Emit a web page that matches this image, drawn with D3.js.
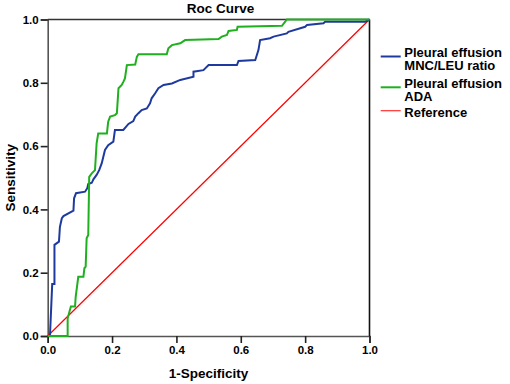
<!DOCTYPE html>
<html>
<head>
<meta charset="utf-8">
<script src="https://cdn.jsdelivr.net/npm/d3@7"></script>
<style>
  body { margin: 0; background: #fff; }
  text { font-family: "Liberation Sans", Arial, sans-serif; font-weight: bold; fill: #000; }
</style>
</head>
<body>
<div id="chart"></div>
<script>
// ROC points [1-specificity, sensitivity]
const mncLeu = [
  [0, 0], [0.007, 0], [0.014, 0.164], [0.021, 0.164], [0.021, 0.288], [0.035, 0.298],
  [0.038, 0.345], [0.044, 0.372], [0.049, 0.379], [0.080, 0.396], [0.082, 0.435],
  [0.088, 0.451], [0.116, 0.456], [0.123, 0.467], [0.126, 0.480], [0.137, 0.484],
  [0.142, 0.495], [0.152, 0.509], [0.160, 0.524], [0.168, 0.546], [0.178, 0.588],
  [0.188, 0.603], [0.204, 0.614], [0.209, 0.651], [0.235, 0.651], [0.251, 0.670],
  [0.266, 0.679], [0.272, 0.693], [0.282, 0.704], [0.292, 0.714], [0.308, 0.719],
  [0.318, 0.735], [0.323, 0.751], [0.334, 0.767], [0.344, 0.783], [0.360, 0.793],
  [0.386, 0.798], [0.412, 0.809], [0.453, 0.819], [0.453, 0.835], [0.484, 0.840],
  [0.500, 0.856], [0.588, 0.856], [0.593, 0.869], [0.645, 0.872], [0.650, 0.888],
  [0.655, 0.904], [0.660, 0.935], [0.691, 0.941], [0.702, 0.946], [0.743, 0.956],
  [0.748, 0.961], [0.800, 0.977], [0.806, 0.983], [0.857, 0.988], [0.862, 0.993],
  [0.987, 0.993], [1, 1]
];

const ada = [
  [0, 0], [0.062, 0], [0.062, 0.056], [0.072, 0.093], [0.085, 0.093], [0.087, 0.124],
  [0.095, 0.187], [0.111, 0.187], [0.114, 0.214], [0.118, 0.219], [0.121, 0.309],
  [0.126, 0.319], [0.129, 0.503], [0.137, 0.514], [0.147, 0.524], [0.152, 0.609],
  [0.157, 0.640], [0.184, 0.640], [0.188, 0.677], [0.194, 0.693], [0.209, 0.698],
  [0.215, 0.704], [0.220, 0.783], [0.230, 0.793], [0.235, 0.803], [0.240, 0.814],
  [0.246, 0.856], [0.272, 0.858], [0.277, 0.882], [0.282, 0.890], [0.370, 0.890],
  [0.375, 0.909], [0.386, 0.919], [0.412, 0.925], [0.427, 0.935], [0.531, 0.938],
  [0.541, 0.946], [0.557, 0.951], [0.562, 0.964], [0.588, 0.967], [0.590, 0.977],
  [0.728, 0.980], [0.738, 0.993], [0.743, 1], [1, 1]
];

const reference = [[0, 0], [1, 1]];

const ticks = [0, 0.2, 0.4, 0.6, 0.8, 1.0];

const legendItems = [
  {lines: ["Pleural effusion", "MNC/LEU ratio"], color: "#1f3a9e"},
  {lines: ["Pleural effusion", "ADA"], color: "#1fb01f"},
  {lines: ["Reference"], color: "#ff3030"}
];

const W = 510, H = 384;
const plot = {left: 47.7, right: 369.5, top: 19.5, bottom: 336};

const svg = d3.select("#chart").append("svg")
  .attr("width", W)
  .attr("height", H);

const x = d3.scaleLinear().domain([0, 1]).range([plot.left, plot.right]);
const y = d3.scaleLinear().domain([0, 1]).range([plot.bottom, plot.top]);

// axes
const xAxis = svg.append("g")
  .attr("transform", "translate(0," + plot.bottom + ")")
  .call(d3.axisBottom(x).tickValues(ticks).tickFormat(d3.format(".1f")).tickSize(7).tickPadding(3));
const yAxis = svg.append("g")
  .attr("transform", "translate(" + plot.left + ",0)")
  .call(d3.axisLeft(y).tickValues(ticks).tickFormat(d3.format(".1f")).tickSize(7).tickPadding(2));

[xAxis, yAxis].forEach(a => {
  a.select(".domain").attr("stroke", "#555").attr("stroke-width", 1.6);
  a.selectAll(".tick line").attr("stroke", "#222").attr("stroke-width", 1.6);
  a.selectAll(".tick text")
    .attr("font-size", 11.5)
    .attr("font-family", "Liberation Sans, Arial, sans-serif")
    .attr("font-weight", "bold")
    .attr("fill", "#000");
});

// frame top and right
svg.append("line").attr("x1", plot.left).attr("x2", plot.right).attr("y1", plot.top).attr("y2", plot.top)
  .attr("stroke", "#333").attr("stroke-width", 1.4);
svg.append("line").attr("x1", plot.right).attr("x2", plot.right).attr("y1", plot.top).attr("y2", plot.bottom)
  .attr("stroke", "#111").attr("stroke-width", 1.6);

const line = d3.line().x(d => x(d[0])).y(d => y(d[1]));

svg.append("path").datum(reference)
  .attr("d", line).attr("fill", "none")
  .attr("stroke", "#ff0000").attr("stroke-width", 1.2);

svg.append("path").datum(mncLeu)
  .attr("d", line).attr("fill", "none")
  .attr("stroke", "#1f3a9e").attr("stroke-width", 2);

svg.append("path").datum(ada)
  .attr("d", line).attr("fill", "none")
  .attr("stroke", "#1fb01f").attr("stroke-width", 2);

// title and axis labels
svg.append("text").attr("x", 220.5).attr("y", 13.3)
  .attr("text-anchor", "middle").attr("font-size", 13.5).text("Roc Curve");

svg.append("text").attr("x", (plot.left + plot.right) / 2).attr("y", 377.5)
  .attr("text-anchor", "middle").attr("font-size", 13.5).text("1-Specificity");

svg.append("text")
  .attr("transform", "translate(15," + ((plot.top + plot.bottom) / 2) + ") rotate(-90)")
  .attr("text-anchor", "middle").attr("font-size", 13.5).text("Sensitivity");

// legend (one text per entry, wrapped lines as tspans)
const legendY = [56.5, 87.3, 110.7];
const textY = [56.5, 87.5, 117];
legendItems.forEach((item, i) => {
  svg.append("line")
    .attr("x1", 380.7).attr("x2", 400.7)
    .attr("y1", legendY[i]).attr("y2", legendY[i])
    .attr("stroke", item.color).attr("stroke-width", i === 2 ? 1.2 : 2);
  const label = svg.append("text")
    .attr("x", 404.3).attr("y", textY[i])
    .attr("font-size", 13);
  item.lines.forEach((t, j) => {
    label.append("tspan")
      .attr("x", 404.3)
      .attr("dy", j === 0 ? 0 : 13.3)
      .text(t);
  });
});
</script>
</body>
</html>
